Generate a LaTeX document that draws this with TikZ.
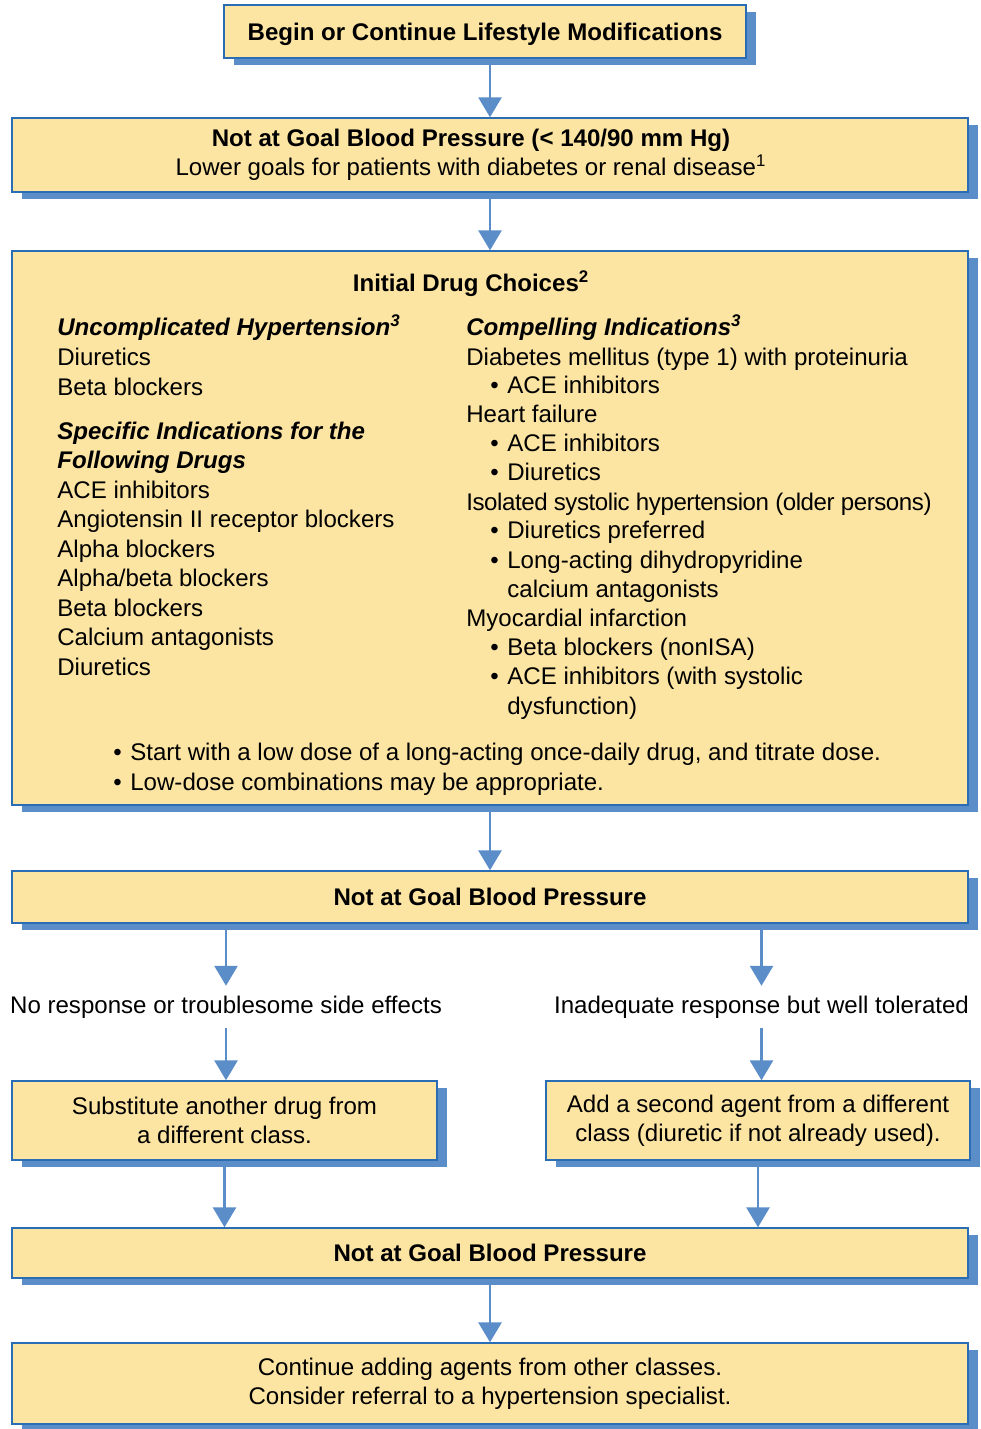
\documentclass[tikz,border=0pt]{standalone}
\usepackage{fontspec}
\setmainfont{Liberation Sans}
\usetikzlibrary{arrows.meta,shadows}
\definecolor{boxfill}{HTML}{FCE4A2}
\definecolor{boxline}{HTML}{2A6DB5}
\definecolor{shadowblue}{HTML}{5B8DC8}
\newcommand{\hd}[1]{\textbf{\textit{#1}}}
\newcommand{\itm}[1]{\hspace*{0.48cm}\makebox[0.34cm][l]{\textbullet}#1}
\newcommand{\cnt}[1]{\hspace*{0.82cm}#1}
\tikzset{
  flowbox/.style  = {draw=boxline,line width=0.8pt,fill=boxfill,align=center,inner sep=0pt,
                     drop shadow={shadow xshift=0.2cm,shadow yshift=-0.14cm,fill=shadowblue,opacity=1}},
  flowarr/.style  = {-{Triangle[length=4mm,width=4.6mm]},line width=1.6pt,shadowblue},
  listline/.style = {anchor=base west,inner sep=0pt},
  sidenote/.style = {inner xsep=0pt,inner ysep=5.5pt}
}

\begin{document}
\begin{tikzpicture}[x=0.02cm,y=-0.02cm,font=\fontsize{13.7}{16.6}\selectfont]
  \useasboundingbox (0,0) rectangle (980,1429);
  % boxes
  \node[flowbox,minimum width=10.44cm,minimum height=1.06cm] (lifestyle) at (485,31.5)
    {\rule{0pt}{13.5pt}\textbf{Begin or Continue Lifestyle Modifications}};
  \node[flowbox,minimum width=19.12cm,minimum height=1.48cm] (notgoal) at (490,155) {};
  \node[align=center,inner sep=0pt] (notgoaltext) at (471,155)
    {\textbf{Not at Goal Blood Pressure (< 140/90 mm Hg)}\\
     Lower goals for patients with diabetes or renal disease\textsuperscript{1}};
  \node[flowbox,minimum width=19.12cm,minimum height=11.08cm] (choices) at (490,528) {};
  \node[flowbox,minimum width=19.12cm,minimum height=1.04cm] (notgoaltwo) at (490,897)
    {\textbf{Not at Goal Blood Pressure}};
  \node[sidenote] (noresp) at (226,1007) {No response or troublesome side effects};
  \node[sidenote] (inadequate) at (761.5,1007) {Inadequate response but well tolerated};
  \node[flowbox,minimum width=8.5cm,minimum height=1.58cm] (substitute) at (224.5,1120.5)
    {Substitute another drug from\\a different class.};
  \node[flowbox,minimum width=8.48cm,minimum height=1.58cm] (addagent) at (758,1120.5)
    {Add a second agent from a different\\class (diuretic if not already used).};
  \node[flowbox,minimum width=19.12cm,minimum height=1.0cm] (notgoalthree) at (490,1253)
    {\textbf{Not at Goal Blood Pressure}};
  \node[flowbox,minimum width=19.12cm,minimum height=1.62cm] (continue) at (490,1383.5)
    {Continue adding agents from other classes.\\Consider referral to a hypertension specialist.};

  % drug choices
  \node (choicestitle) at (471,283.5) {\textbf{Initial Drug Choices\textsuperscript{2}}};
  \foreach \y/\t [count=\i] in {336/{\hd{Uncomplicated Hypertension\textsuperscript{3}}},
      365/Diuretics, 395/Beta blockers,
      439/{\hd{Specific Indications for the}}, 468/{\hd{Following Drugs}},
      498/ACE inhibitors, 527/Angiotensin II receptor blockers, 557/Alpha blockers,
      586/{Alpha/beta blockers}, 616/Beta blockers, 645/Calcium antagonists, 675/Diuretics}
    \node[listline] (leftline\i) at (57,\y) {\t};
  \foreach \y/\t [count=\i] in {336/{\hd{Compelling Indications\textsuperscript{3}}},
      365/Diabetes mellitus (type 1) with proteinuria, 393/{\itm{ACE inhibitors}},
      422/Heart failure, 451/{\itm{ACE inhibitors}}, 480/{\itm{Diuretics}},
      510/{\addfontfeature{LetterSpace=-1.8}Isolated systolic hypertension (older persons)},
      538/{\itm{Diuretics preferred}},
      568/{\itm{Long-acting dihydropyridine}}, 597/{\cnt{calcium antagonists}},
      626/Myocardial infarction, 655/{\itm{Beta blockers (nonISA)}},
      684/{\itm{ACE inhibitors (with systolic}}, 714/{\cnt{dysfunction)}}}
    \node[listline] (rightline\i) at (466,\y) {\t};
  \node[listline] (startlow) at (89,760)
    {\itm{Start with a low dose of a long-acting once-daily drug, and titrate dose.}};
  \node[listline] (lowdose) at (89,790) {\itm{Low-dose combinations may be appropriate.}};

  % connectors
  \draw[flowarr] (notgoal.north |- lifestyle.south) -- (notgoal.north);
  \draw[flowarr] (notgoal.south) -- (choices.north);
  \draw[flowarr] (choices.south) -- (notgoaltwo.north);
  \draw[flowarr] (noresp.north |- notgoaltwo.south) -- (noresp.north);
  \draw[flowarr] (inadequate.north |- notgoaltwo.south) -- (inadequate.north);
  \draw[flowarr] (noresp.south) -- (noresp.south |- substitute.north);
  \draw[flowarr] (inadequate.south) -- (inadequate.south |- addagent.north);
  \draw[flowarr] (substitute.south) -- (substitute.south |- notgoalthree.north);
  \draw[flowarr] (addagent.south) -- (addagent.south |- notgoalthree.north);
  \draw[flowarr] (notgoalthree.south) -- (continue.north);
\end{tikzpicture}
\end{document}
